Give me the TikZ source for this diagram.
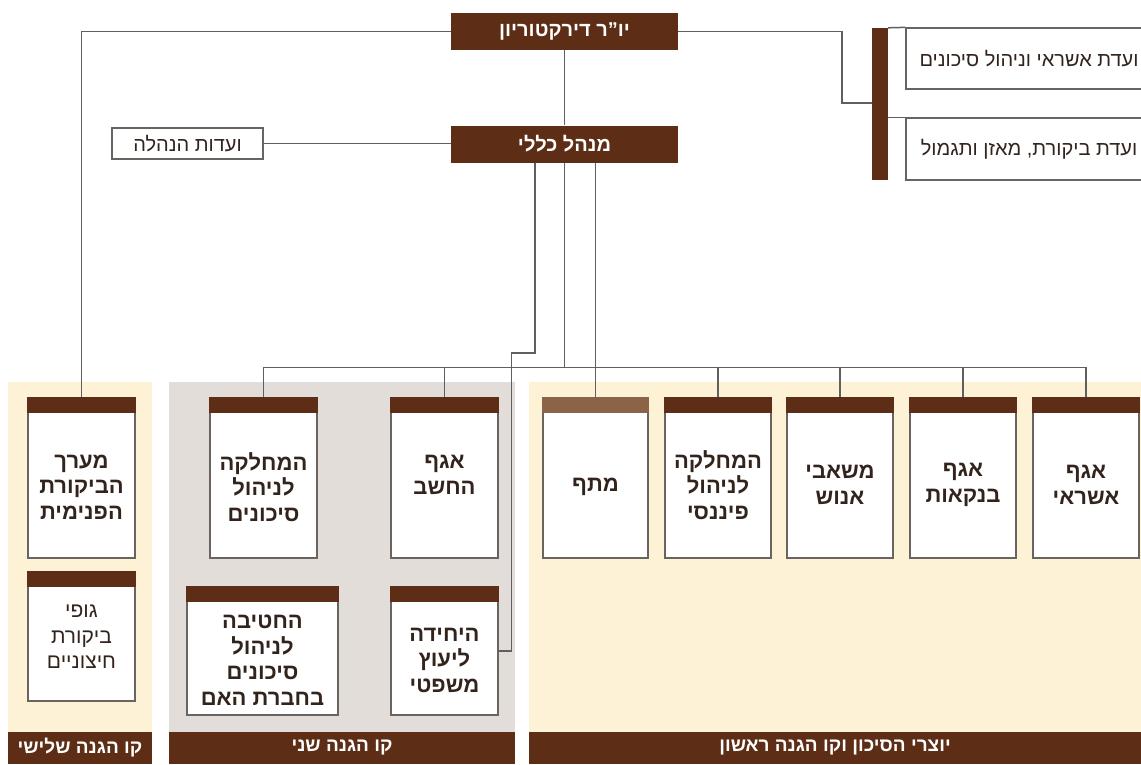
\documentclass[tikz,border=0pt]{standalone}
\usepackage{fontspec}
\newfontfamily\hebfont[Script=Hebrew]{Liberation Sans}
\TeXXeTstate=1
\usepackage{xcolor}
\definecolor{darkbrown}{RGB}{93,45,21}
\definecolor{lightbrown}{RGB}{139,100,72}
\definecolor{panelbeige}{RGB}{253,241,214}
\definecolor{panelgray}{RGB}{226,221,216}
\definecolor{linegray}{RGB}{95,95,95}
\definecolor{boxgray}{RGB}{105,100,95}
\definecolor{inkbrown}{RGB}{50,36,28}
\newcommand{\heb}[1]{\beginR #1\endR}
\usetikzlibrary{positioning}

\tikzset{
  topbox/.style={fill=darkbrown, text=white, font=\hebfont\bfseries\fontsize{20}{24}\selectfont,
    minimum width=227pt, minimum height=37pt, inner sep=0pt},
  minor/.style={draw=boxgray, line width=1.3pt, fill=white, text=inkbrown,
    font=\hebfont\fontsize{20}{24}\selectfont, inner sep=0pt},
  linebar/.style={fill=darkbrown, text=white, font=\hebfont\bfseries\fontsize{19}{22}\selectfont,
    minimum height=32pt, inner sep=0pt},
  unit/.style={draw=boxgray, line width=1.3pt, fill=white, inner sep=0pt,
    minimum width=107pt, minimum height=160pt},
  unittext/.style={text=inkbrown, font=\hebfont\bfseries\fontsize{22}{25.5}\selectfont,
    align=center, inner sep=0pt},
  link/.style={draw=linegray, line width=1.5pt}
}

\begin{document}
\begin{tikzpicture}[x=1pt,y=-1pt]
\useasboundingbox (0,0) rectangle (1141,764);

% Panels for the three lines of defence
\fill[panelbeige] (8,382) rectangle (152,732);
\fill[panelgray] (169,382) rectangle (515,732);
\fill[panelbeige] (529,382) rectangle (1141,732);

\node[linebar, minimum width=144pt] (third) at (80,748) {\heb{קו הגנה שלישי}};
\node[linebar, minimum width=346pt] (second) at (342,748) {\heb{קו הגנה שני}};
\node[linebar, minimum width=612pt] (first) at (835,748) {\heb{יוצרי הסיכון וקו הגנה ראשון}};

% Top management
\node[topbox] (chair) at (564.5,31.5) {\heb{יו”ר דירקטוריון}};
\node[topbox] (gm) at (564.5,144) {\heb{מנהל כללי}};
\node[minor, minimum width=151pt, minimum height=31pt] (mgmt) at (187.5,143.5) {\heb{ועדות הנהלה}};

% Board committees
\node[fill=darkbrown, minimum width=16pt, minimum height=152pt, inner sep=0pt] (bar) at (880,104) {};
\node[minor, minimum width=246pt, minimum height=61pt] (credcom) at (1029,58.5) {\heb{ועדת אשראי וניהול סיכונים}};
\node[minor, minimum width=246pt, minimum height=62pt] (audcom) at (1029,149) {\heb{ועדת ביקורת, מאזן ותגמול}};

% Units
\node[unit] (audit) at (81.5,478) {};
\node[unit, minimum height=129pt] (ext) at (81.5,636.5) {};
\node[unit] (riskdep) at (263.5,478) {};
\node[unit] (acct) at (444.5,478) {};
\node[unit, minimum width=151pt, minimum height=128pt] (parent) at (262.5,651) {};
\node[unit, minimum height=128pt] (legal) at (444.5,651) {};
\node[unit, minimum width=105pt] (matap) at (595.5,478) {};
\node[unit, minimum width=106pt] (findep) at (718,478) {};
\node[unit, minimum width=106pt] (hr) at (840,478) {};
\node[unit, minimum width=106pt] (bank) at (963,478) {};
\node[unit, minimum width=106pt] (credit) at (1086,478) {};

% Unit headers
\foreach \n/\c in {audit/darkbrown, ext/darkbrown, riskdep/darkbrown, acct/darkbrown,
    parent/darkbrown, legal/darkbrown, matap/lightbrown, findep/darkbrown,
    hr/darkbrown, bank/darkbrown, credit/darkbrown}
  \fill[\c] ([xshift=-0.65pt]\n.north west) rectangle ([xshift=0.65pt,yshift=-16pt]\n.north east);

% Unit names
\node[unittext] (auditT) at (81.5,487) {מערך\\הביקורת\\הפנימית};
\node[unittext, font=\hebfont\fontsize{21}{25.5}\selectfont] (extT) at (81.5,637) {גופי\\ביקורת\\חיצוניים};
\node[unittext] (riskdepT) at (263.5,487) {המחלקה\\לניהול\\סיכונים};
\node[unittext] (acctT) at (444.5,475) {אגף\\החשב};
\node[unittext] (parentT) at (262.5,660) {החטיבה\\לניהול\\סיכונים\\\heb{בחברת האם}};
\node[unittext] (legalT) at (444.5,660) {היחידה\\ליעוץ\\משפטי};
\node[unittext] (matapT) at (595.5,487) {מתף};
\node[unittext] (findepT) at (718,485) {המחלקה\\לניהול\\פיננסי};
\node[unittext] (hrT) at (840,485) {משאבי\\אנוש};
\node[unittext] (bankT) at (963,485) {אגף\\בנקאות};
\node[unittext] (creditT) at (1086,485) {אגף\\אשראי};

% Connectors
\coordinate (cjog) at (842,103);
\coordinate (ljog) at (535,353);
\draw[link] (chair.west) -| (audit.north);
\draw[link] (chair.east) -| (cjog) -- (cjog -| bar.west);
\draw[link] (bar.north east) -- (credcom.north west);
\draw[link] (audcom.north west) -- (audcom.north west -| bar.east);
\draw[link] (chair) -- (gm);
\draw[link] (mgmt.east) -- (gm.west |- mgmt.east);
\foreach \n in {riskdep,acct,findep,hr,bank,credit}
  \draw[link] (gm.south) |- ([yshift=30pt]\n.north) -- (\n.north);
\draw[link] (gm.south -| matap.north) -- (matap.north);
\draw[link] (gm.south -| ljog) -- (ljog) -| ([xshift=13pt]legal.east) -- (legal.east);

\end{tikzpicture}
\end{document}
